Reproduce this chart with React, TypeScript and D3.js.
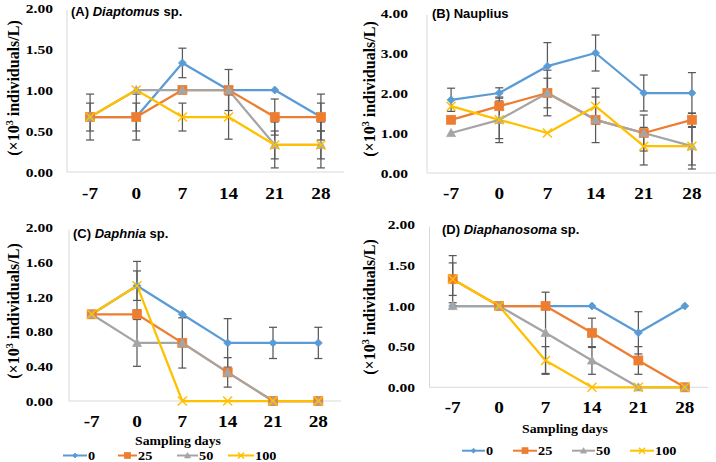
import React from 'react';
import * as d3 from 'd3';

const days = ["-7", "0", "7", "14", "21", "28"];
const treatments = ["0", "25", "50", "100"];
const colors = ["#5B9BD5", "#ED7D31", "#A5A5A5", "#FFC000"];

const diaptomusValues = [
  [0.67, 0.67, 1.33, 1.0, 1.0, 0.67],
  [0.67, 0.67, 1.0, 1.0, 0.67, 0.67],
  [0.67, 1.0, 1.0, 1.0, 0.33, 0.33],
  [0.67, 1.0, 0.67, 0.67, 0.33, 0.33],
];
const diaptomusErrors = [
  [0, 0.17, 0.18, 0.25, 0, 0.17],
  [0.28, 0.28, 0, 0, 0.22, 0.28],
  [0.17, 0, 0, 0, 0.17, 0.28],
  [0, 0, 0.17, 0.27, 0.28, 0.17],
];
const naupliusValues = [
  [1.83, 2.0, 2.67, 3.0, 2.0, 2.0],
  [1.33, 1.67, 2.0, 1.33, 1.0, 1.33],
  [1.0, 1.33, 2.0, 1.33, 1.0, 0.67],
  [1.67, 1.33, 1.0, 1.67, 0.67, 0.67],
];
const naupliusErrors = [
  [0.29, 0.13, 0.59, 0.45, 0.45, 0.51],
  [0, 0, 0.37, 0.57, 0.45, 0.17],
  [0, 0.47, 0.57, 0, 0, 0.57],
  [0, 0.57, 0, 0.45, 0.47, 0.47],
];
const daphniaValues = [
  [1.0, 1.33, 1.0, 0.67, 0.67, 0.67],
  [1.0, 1.0, 0.67, 0.33, 0, 0],
  [1.0, 0.67, 0.67, 0.33, 0, 0],
  [1.0, 1.33, 0, 0, 0, 0],
];
const daphniaErrors = [
  [0, 0.28, 0, 0.28, 0.18, 0.18],
  [0, 0, 0.29, 0.17, 0, 0],
  [0, 0.27, 0, 0, 0, 0],
  [0, 0.17, 0, 0, 0, 0],
];
const diaphanosomaValues = [
  [1.0, 1.0, 1.0, 1.0, 0.67, 1.0],
  [1.33, 1.0, 1.0, 0.67, 0.33, 0],
  [1.0, 1.0, 0.67, 0.33, 0, 0],
  [1.33, 1.0, 0.33, 0, 0, 0],
];
const diaphanosomaErrors = [
  [0, 0, 0, 0, 0.26, 0],
  [0.29, 0, 0, 0.18, 0.17, 0],
  [0, 0, 0.5, 0.17, 0, 0],
  [0.2, 0, 0.17, 0, 0, 0],
];
const ticksA = [0, 0.5, 1, 1.5, 2];
const ticksB = [0, 1, 2, 3, 4];
const ticksC = [0, 0.4, 0.8, 1.2, 1.6, 2.0];
const ticksD = [0, 0.5, 1, 1.5, 2];

const SERIF = "Liberation Serif, DejaVu Serif, serif";
const SANS = "Liberation Sans, Arial, sans-serif";
const ERR = "#595959";
const AXIS = "#D9D9D9";

const panels = [
  { label: "(A) ", genus: "Diaptomus", suffix: " sp.", values: diaptomusValues, errors: diaptomusErrors, ticks: ticksA, max: 2,
    left: 67, right: 344, y0: 172, yTop: 8, labelRight: 53, xLabelY: 199, titleX: 71, titleY: 16, yTitleX: 13, yTitleY: 88, xTitle: null, legendY: null },
  { label: "(B) Nauplius", genus: null, suffix: "", values: naupliusValues, errors: naupliusErrors, ticks: ticksB, max: 4,
    left: 427, right: 716, y0: 173, yTop: 13, labelRight: 408, xLabelY: 199, titleX: 432, titleY: 18, yTitleX: 369, yTitleY: 89, xTitle: null, legendY: null },
  { label: "(C) ", genus: "Daphnia", suffix: " sp.", values: daphniaValues, errors: daphniaErrors, ticks: ticksC, max: 2,
    left: 69, right: 341, y0: 401, yTop: 227.6, labelRight: 53, xLabelY: 426.7, titleX: 73, titleY: 238, yTitleX: 13, yTitleY: 311,
    xTitle: { x: 178, y: 445 }, legend: { y: 455.5, items: [{ x1: 63, x2: 87 }, { x1: 118, x2: 137 }, { x1: 177, x2: 198 }, { x1: 228, x2: 254 }] } },
  { label: "(D) ", genus: "Diaphanosoma", suffix: " sp.", values: diaphanosomaValues, errors: diaphanosomaErrors, ticks: ticksD, max: 2,
    left: 429.5, right: 708, y0: 387.3, yTop: 224.7, labelRight: 415, xLabelY: 413.3, titleX: 442, titleY: 234, yTitleX: 369, yTitleY: 307,
    xTitle: { x: 565, y: 433 }, legend: { y: 450.7, items: [{ x1: 462, x2: 485 }, { x1: 513, x2: 537 }, { x1: 572, x2: 595 }, { x1: 630, x2: 654 }] } },
];

function Marker({ i, x, y, s }: { i: number; x: number; y: number; s: number }) {
  const c = colors[i];
  if (i === 0) {
    return <path d={`M${x},${y - s}L${x + s},${y}L${x},${y + s}L${x - s},${y}Z`} fill={c} stroke={c} strokeWidth={0.75} />;
  }
  if (i === 1) {
    return <rect x={x - s} y={y - s} width={2 * s} height={2 * s} fill={c} stroke={c} strokeWidth={0.75} />;
  }
  if (i === 2) {
    return <path d={`M${x},${y - s}L${x + s},${y + s * 0.8}L${x - s},${y + s * 0.8}Z`} fill={c} stroke={c} strokeWidth={0.75} />;
  }
  return (
    <path d={`M${x - s},${y - s}L${x + s},${y + s}M${x - s},${y + s}L${x + s},${y - s}`} stroke={c} strokeWidth={1.5} fill="none" />
  );
}

function Panel({ p }: { p: any }) {
  const x = d3.scaleBand<string>().domain(days).range([p.left, p.right]).padding(0);
  const y = d3.scaleLinear().domain([0, p.max]).range([p.y0, p.yTop]);
  const cx = (d: string) => (x(d) as number) + x.bandwidth() / 2;
  const line = d3.line<number>().x((_, j) => cx(days[j])).y((v) => y(v));
  const fmt = d3.format(".2f");
  return (
    <g>
      <line x1={p.left} x2={p.left} y1={p.yTop + 2} y2={p.y0} stroke={AXIS} strokeWidth={1} />
      <line x1={p.left} x2={p.right} y1={p.y0} y2={p.y0} stroke={AXIS} strokeWidth={1} />
      {p.ticks.map((t: number) => (
        <text key={t} transform={`translate(${p.labelRight},${y(t)}) scale(1.15,1)`} dy="0.35em" textAnchor="end"
          style={{ fontFamily: SERIF }} fontWeight="bold" fontSize={13.5} fill="#000">{fmt(t)}</text>
      ))}
      {days.map((d) => (
        <text key={d} transform={`translate(${cx(d)},${p.xLabelY}) scale(1.2,1)`} textAnchor="middle"
          style={{ fontFamily: SERIF }} fontWeight="bold" fontSize={16} fill="#000">{d}</text>
      ))}
      <text transform={`translate(${p.yTitleX},${p.yTitleY}) rotate(-90)`} textAnchor="middle" dy="0.35em"
        style={{ fontFamily: SERIF }} fontWeight="bold" fontSize={16} fill="#000">
        (×10<tspan dy="-6" fontSize={10}>3</tspan><tspan dy="6"> individuals/L)</tspan>
      </text>
      <text x={p.titleX} y={p.titleY} style={{ fontFamily: SANS }} fontWeight="bold" fontSize={13} fill="#000">
        {p.label}{p.genus ? <tspan fontStyle="italic">{p.genus}</tspan> : null}{p.suffix}
      </text>
      {p.values.map((vals: number[], i: number) => (
        <path key={"l" + i} d={line(vals) as string} fill="none" stroke={colors[i]} strokeWidth={2.25} strokeLinejoin="round" />
      ))}
      {p.values.map((vals: number[], i: number) =>
        vals.map((v, j) => {
          const e = p.errors[i][j];
          if (!e) return null;
          const px = cx(days[j]);
          const lo = Math.max(0, v - e);
          const hi = v + e;
          return (
            <g key={"e" + i + "-" + j} stroke={ERR} strokeWidth={1.25}>
              <line x1={px} x2={px} y1={y(lo)} y2={y(hi)} />
              <line x1={px - 4} x2={px + 4} y1={y(lo)} y2={y(lo)} />
              <line x1={px - 4} x2={px + 4} y1={y(hi)} y2={y(hi)} />
            </g>
          );
        })
      )}
      {p.values.map((vals: number[], i: number) =>
        vals.map((v, j) => <Marker key={"m" + i + "-" + j} i={i} x={cx(days[j])} y={y(v)} s={i === 0 ? 4 : 4.5} />)
      )}
      {p.xTitle ? (
        <text transform={`translate(${p.xTitle.x},${p.xTitle.y}) scale(1.1,1)`} textAnchor="middle"
          style={{ fontFamily: SERIF }} fontWeight="bold" fontSize={12.5} fill="#000">Sampling days</text>
      ) : null}
      {p.legend
        ? treatments.map((t, i) => {
            const it = p.legend.items[i];
            const ly = p.legend.y;
            return (
              <g key={"lg" + i}>
                <line x1={it.x1} x2={it.x2} y1={ly} y2={ly} stroke={colors[i]} strokeWidth={2} />
                <Marker i={i} x={(it.x1 + it.x2) / 2} y={ly} s={i === 0 ? 2.5 : 3} />
                <text transform={`translate(${it.x2 + 1},${ly}) scale(1.1,1)`} dy="0.35em" style={{ fontFamily: SERIF }}
                  fontWeight="bold" fontSize={13} fill="#000">{t}</text>
              </g>
            );
          })
        : null}
    </g>
  );
}

export default function App() {
  return (
    <svg width={716} height={462} style={{ position: 'absolute', left: 0, top: 0, background: '#fff' }}>
      <rect width={716} height={462} fill="#fff" />
      {panels.map((p, k) => <Panel key={k} p={p} />)}
    </svg>
  );
}
